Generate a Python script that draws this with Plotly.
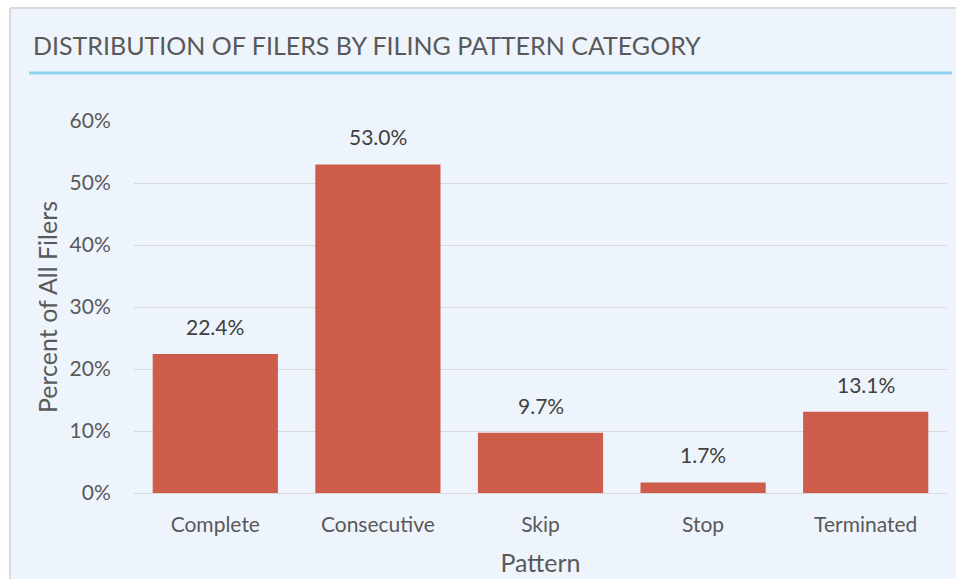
import plotly.graph_objects as go

categories = ["Complete", "Consecutive", "Skip", "Stop", "Terminated"]
values = [22.4, 53.0, 9.7, 1.7, 13.1]
value_labels = ["22.4%", "53.0%", "9.7%", "1.7%", "13.1%"]
y_ticks = [0, 10, 20, 30, 40, 50, 60]
y_tick_labels = ["0%", "10%", "20%", "30%", "40%", "50%", "60%"]

W, H = 956, 579
L, R, T, B = 134, 9, 121, 86
pw = W - L - R
ph = H - T - B

def px(x):
    return (x - L) / pw

def py(y):
    return (H - B - y) / ph

FONT = "Lato"
GREY = "#595959"
BG = "#EEF4FB"
BORDER = "#D9D9D9"

fig = go.Figure()
fig.add_trace(go.Bar(
    x=categories, y=values,
    marker=dict(color="#CD5C4B", line=dict(width=0)),
    hoverinfo="x+y",
))

shapes = [
    dict(type="rect", xref="paper", yref="paper", x0=px(10), x1=px(W),
         y0=py(H), y1=py(8), fillcolor=BG, line=dict(width=0), layer="below"),
    dict(type="line", xref="paper", yref="paper", x0=px(10), x1=px(W),
         y0=py(8), y1=py(8), line=dict(color=BORDER, width=2), layer="below"),
    dict(type="line", xref="paper", yref="paper", x0=px(10), x1=px(10),
         y0=py(8), y1=py(H), line=dict(color=BORDER, width=2), layer="below"),
    dict(type="line", xref="paper", yref="paper", x0=px(29), x1=px(952),
         y0=py(73), y1=py(73), line=dict(color="#8FD3F0", width=3), layer="below"),
]

annotations = [
    dict(text="DISTRIBUTION OF FILERS BY FILING PATTERN CATEGORY", xref="paper", yref="paper",
         x=px(31), y=py(45), xanchor="left", yanchor="middle", showarrow=False,
         font=dict(family=FONT, size=25, color=GREY)),
]
for c, v, t in zip(categories, values, value_labels):
    annotations.append(dict(x=c, y=v, xref="x", yref="y", text=t, showarrow=False,
                            yanchor="bottom", yshift=13,
                            font=dict(family=FONT, size=21, color="#404040")))

fig.update_layout(
    width=W, height=H,
    margin=dict(l=L, r=R, t=T, b=B),
    paper_bgcolor="white",
    plot_bgcolor="rgba(0,0,0,0)",
    bargap=0.23,
    showlegend=False,
    shapes=shapes,
    annotations=annotations,
    font=dict(family=FONT, color=GREY),
    xaxis=dict(
        automargin=False,
        showgrid=False, showline=True, linecolor=BORDER, linewidth=1,
        ticks="outside", ticklen=13, tickcolor="rgba(0,0,0,0)",
        tickfont=dict(family=FONT, size=21, color=GREY),
        title=dict(text="Pattern", font=dict(family=FONT, size=25, color=GREY), standoff=19),
    ),
    yaxis=dict(
        automargin=False,
        range=[0, 60], tickvals=y_ticks, ticktext=y_tick_labels,
        showgrid=True, gridcolor=BORDER, gridwidth=1, zeroline=False,
        ticks="outside", ticklen=18, tickcolor="rgba(0,0,0,0)",
        tickfont=dict(family=FONT, size=21, color=GREY),
        title=dict(text="Percent of All Filers", font=dict(family=FONT, size=25, color=GREY), standoff=4),
    ),
)

fig.write_html(
    "out.html", config={"displayModeBar": False},
    post_script=("document.documentElement.style.margin='0';"
                 "document.documentElement.style.overflow='hidden';"
                 "document.body.style.margin='0';document.body.style.overflow='hidden';"),
)
